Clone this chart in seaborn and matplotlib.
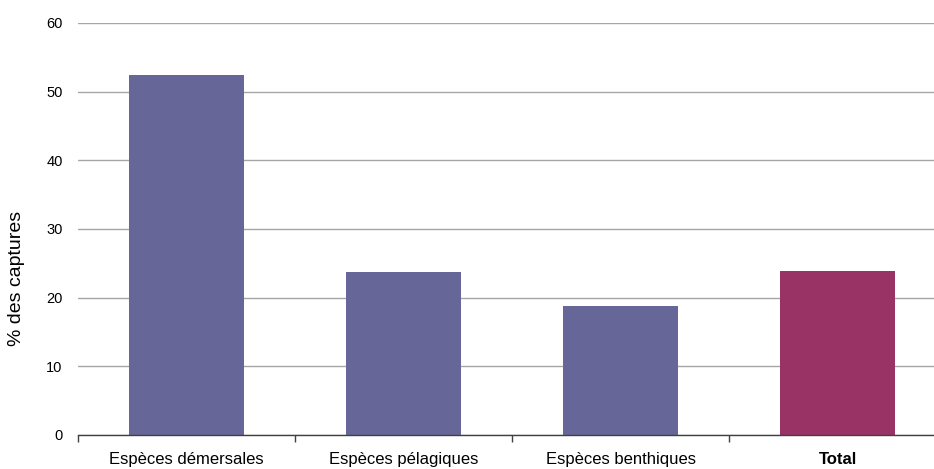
import matplotlib
matplotlib.use("Agg")
import matplotlib.pyplot as plt
import seaborn as sns
import pandas as pd
from matplotlib.ticker import FixedLocator

# data
categories = ["Espèces démersales", "Espèces pélagiques", "Espèces benthiques", "Total"]
values = [52.4, 23.7, 18.8, 23.9]
colors = ["#666699", "#666699", "#666699", "#993366"]

df = pd.DataFrame({"cat": categories, "val": values})

sns.set_style("white", {"text.color": "black", "axes.labelcolor": "black",
                        "xtick.color": "black", "ytick.color": "black"})
plt.rcParams["font.family"] = ["Liberation Sans", "DejaVu Sans"]

fig = plt.figure(figsize=(9.34, 4.69), dpi=100)
ax = fig.add_axes([78 / 934, 1 - 435 / 469, 868 / 934, 412 / 469])

sns.barplot(data=df, x="cat", y="val", hue="cat", palette=colors,
            width=0.53, legend=False, saturation=1, linewidth=0, ax=ax)

ax.set_xlim(-0.5, 3.5)
ax.set_ylim(0, 60)
ax.set_yticks(range(0, 61, 10))
ax.yaxis.grid(True, color="#a6a6a6", linewidth=1)
ax.set_axisbelow(True)

for s in ["top", "right", "left"]:
    ax.spines[s].set_visible(False)
ax.spines["bottom"].set_color("#404040")
ax.spines["bottom"].set_linewidth(1)

# category separators as ticks
ax.xaxis.set_minor_locator(FixedLocator([-0.5, 0.5, 1.5, 2.5, 3.5]))
ax.tick_params(axis="x", which="minor", length=5, color="#404040", width=1, bottom=True)
ax.tick_params(axis="x", which="major", length=0, pad=12, labelsize=12)
ax.tick_params(axis="y", length=0, pad=11, labelsize=10.5)

ax.set_xlabel("")
ax.set_ylabel("% des captures", fontsize=14)
ax.yaxis.set_label_coords(-53 / 868, 0.38)

for lbl in ax.get_xticklabels():
    if lbl.get_text() == "Total":
        lbl.set_fontweight("bold")

fig.savefig("out.png", dpi=100)
